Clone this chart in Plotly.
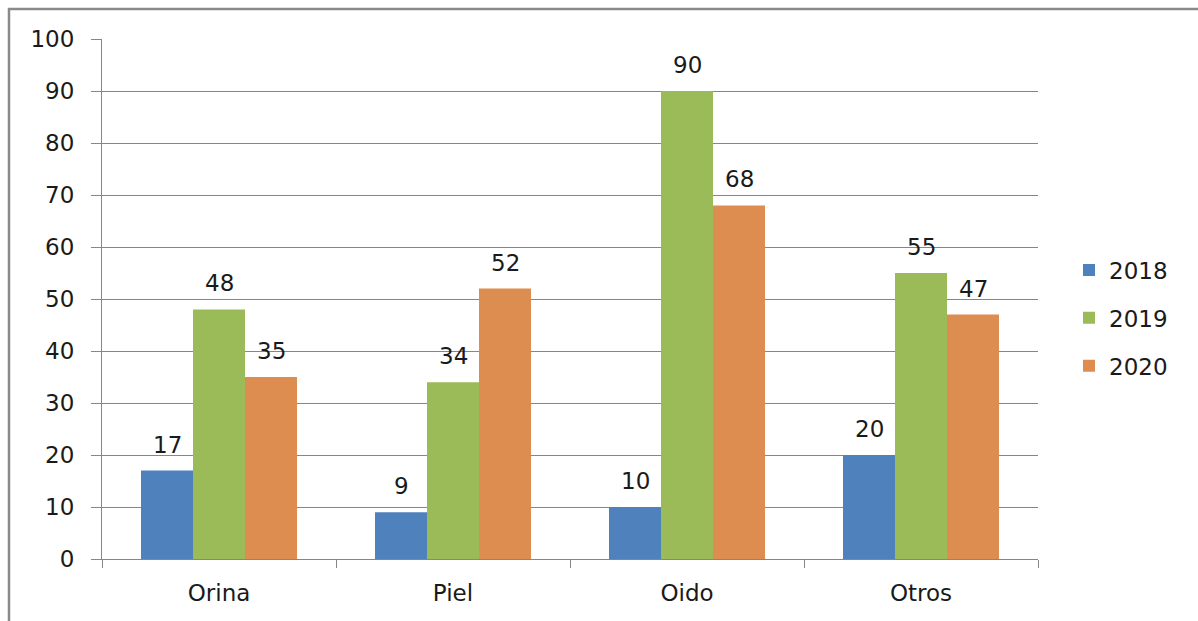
import plotly.graph_objects as go

# Sample counts per source, by year
categories = ["Orina", "Piel", "Oido", "Otros"]
years = ["2018", "2019", "2020"]
values_2018 = [17, 9, 10, 20]
values_2019 = [48, 34, 90, 55]
values_2020 = [35, 52, 68, 47]
y_ticks = [0, 10, 20, 30, 40, 50, 60, 70, 80, 90, 100]

series = [values_2018, values_2019, values_2020]
colors = ["#4F81BD", "#9BBB59", "#DD8D50"]

FONT = "DejaVu Sans"
FS = 23
TXT = "#1a1a1a"
GRID = "#868686"

W, H = 1198, 621
ML, MR, MT, MB = 102, 160, 39, 62
plot_w = W - ML - MR
plot_h = H - MT - MB
base_px = MT + plot_h  # pixel row of the x axis

fig = go.Figure()
for name, vals, col, grp in zip(years, series, colors, ["a", "b", "c"]):
    fig.add_trace(go.Bar(
        x=categories, y=vals, name=name,
        marker=dict(color=col, line=dict(width=0)),
        legendgroup=grp,
    ))

# value labels above each bar
bar_px = plot_w / len(categories) / 4.5
for i, vals in enumerate(series):
    for cat, v in zip(categories, vals):
        fig.add_annotation(
            x=cat, y=v, xref="x", yref="y",
            text=str(v), showarrow=False,
            xshift=(i - 1) * bar_px, yshift=11,
            yanchor="bottom", xanchor="center",
            font=dict(family=FONT, size=FS, color=TXT),
        )

# outer chart frame (left and top edges visible)
fig.add_shape(
    type="rect", xref="paper", yref="paper",
    x0=(9 - ML) / plot_w, x1=(W + 20 - ML) / plot_w,
    y0=(base_px - (H + 20)) / plot_h, y1=(base_px - 9) / plot_h,
    line=dict(color="#8a8a8a", width=2.5), fillcolor="rgba(0,0,0,0)",
    layer="below",
)

fig.update_layout(
    width=W, height=H,
    margin=dict(l=ML, r=MR, t=MT, b=MB),
    paper_bgcolor="white", plot_bgcolor="white",
    barmode="group", bargap=1.5 / 4.5, bargroupgap=0,
    font=dict(family=FONT, size=FS, color=TXT),
    showlegend=True,
    legend=dict(
        x=(1069 - ML) / plot_w, xanchor="left",
        y=(base_px - 318) / plot_h, yanchor="middle",
        traceorder="grouped", tracegroupgap=15,
        font=dict(family=FONT, size=FS, color=TXT),
        bgcolor="rgba(0,0,0,0)",
    ),
)

fig.update_xaxes(
    type="category", showline=True, linecolor=GRID, linewidth=1,
    ticks="outside", tickson="boundaries", ticklen=8, tickcolor=GRID,
    showgrid=False, ticklabelstandoff=13,
    tickfont=dict(family=FONT, size=FS, color=TXT),
)
fig.update_yaxes(
    range=[0, 100], tickvals=y_ticks,
    showline=True, linecolor=GRID, linewidth=1,
    ticks="outside", ticklen=10, tickcolor=GRID,
    showgrid=True, gridcolor=GRID, gridwidth=1,
    zeroline=False, ticklabelstandoff=12,
    tickfont=dict(family=FONT, size=FS, color=TXT),
)

fig.write_html("out.html")
